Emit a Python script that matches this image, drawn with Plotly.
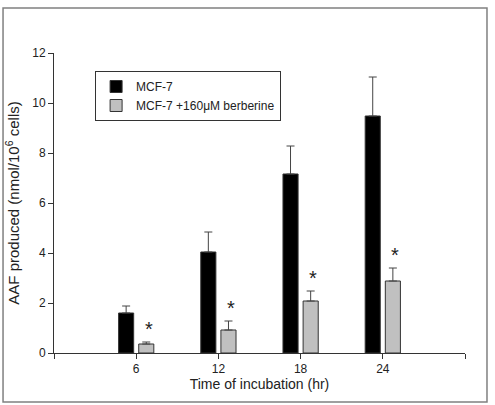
import plotly.graph_objects as go

hours = [6, 12, 18, 24]
mcf7 = [1.6, 4.04, 7.16, 9.48]
mcf7_err = [0.28, 0.80, 1.12, 1.56]
berb = [0.36, 0.92, 2.08, 2.88]
berb_err = [0.08, 0.36, 0.40, 0.52]
x_ticks = [6, 12, 18, 24]
x_end_ticks = [0, 30]
y_ticks = [0, 2, 4, 6, 8, 10, 12]

FAM = "Liberation Sans, Arial, sans-serif"
font = dict(family=FAM, size=12, color="#222")

fig = go.Figure()
fig.add_trace(go.Bar(
    x=hours, y=mcf7, name="MCF-7",
    marker=dict(color="black", line=dict(color="#333", width=1)),
    error_y=dict(type="data", array=mcf7_err, arrayminus=[0]*4, symmetric=False,
                 color="#444", thickness=1, width=4),
))
fig.add_trace(go.Bar(
    x=hours, y=berb, name="MCF-7 +160\u03bcM berberine",
    marker=dict(color="#c0c0c0", line=dict(color="#333", width=1)),
    error_y=dict(type="data", array=berb_err, arrayminus=[0]*4, symmetric=False,
                 color="#444", thickness=1, width=4),
))

# significance asterisks above berberine bars
for h, v, e in zip(hours, berb, berb_err):
    fig.add_annotation(x=h + 0.92, y=v + e, text="*", showarrow=False,
                       yanchor="bottom", yshift=0,
                       font=dict(family=FAM, size=20, color="#222"))

# outer frame
fig.add_shape(type="rect", xref="paper", yref="paper",
              x0=-0.124, x1=1.0535, y0=-0.163, y1=1.15,
              line=dict(color="#808080", width=1.5))

fig.update_layout(
    width=495, height=405,
    margin=dict(l=54, r=30, t=53, b=52),
    paper_bgcolor="white", plot_bgcolor="white",
    font=font,
    barmode="group", bargap=0.51, bargroupgap=0.25,
    showlegend=True,
    legend=dict(x=0.1, y=0.94, xanchor="left", yanchor="top",
                bordercolor="#333", borderwidth=1, bgcolor="white",
                font=dict(family=FAM, size=12, color="#222"),
                tracegroupgap=0, itemwidth=30),
    xaxis=dict(range=[0, 30], tickvals=x_ticks,
               ticks="outside", ticklen=5, tickcolor="#333",
               minor=dict(tickvals=x_end_ticks, ticks="outside", ticklen=5, tickcolor="#333", showgrid=False),
               showline=True, linecolor="#333", linewidth=1,
               showgrid=False, zeroline=False,
               title=dict(text="Time of incubation (hr)", standoff=2, font=dict(size=14))),
    yaxis=dict(range=[0, 12], tickvals=y_ticks,
               ticks="outside", ticklen=5, tickcolor="#333",
               showline=True, linecolor="#333", linewidth=1,
               showgrid=False, zeroline=False,
               title=dict(text="AAF produced (nmol/10<sup>6</sup> cells)", standoff=8, font=dict(size=15))),
)

fig.write_html("out.html")
